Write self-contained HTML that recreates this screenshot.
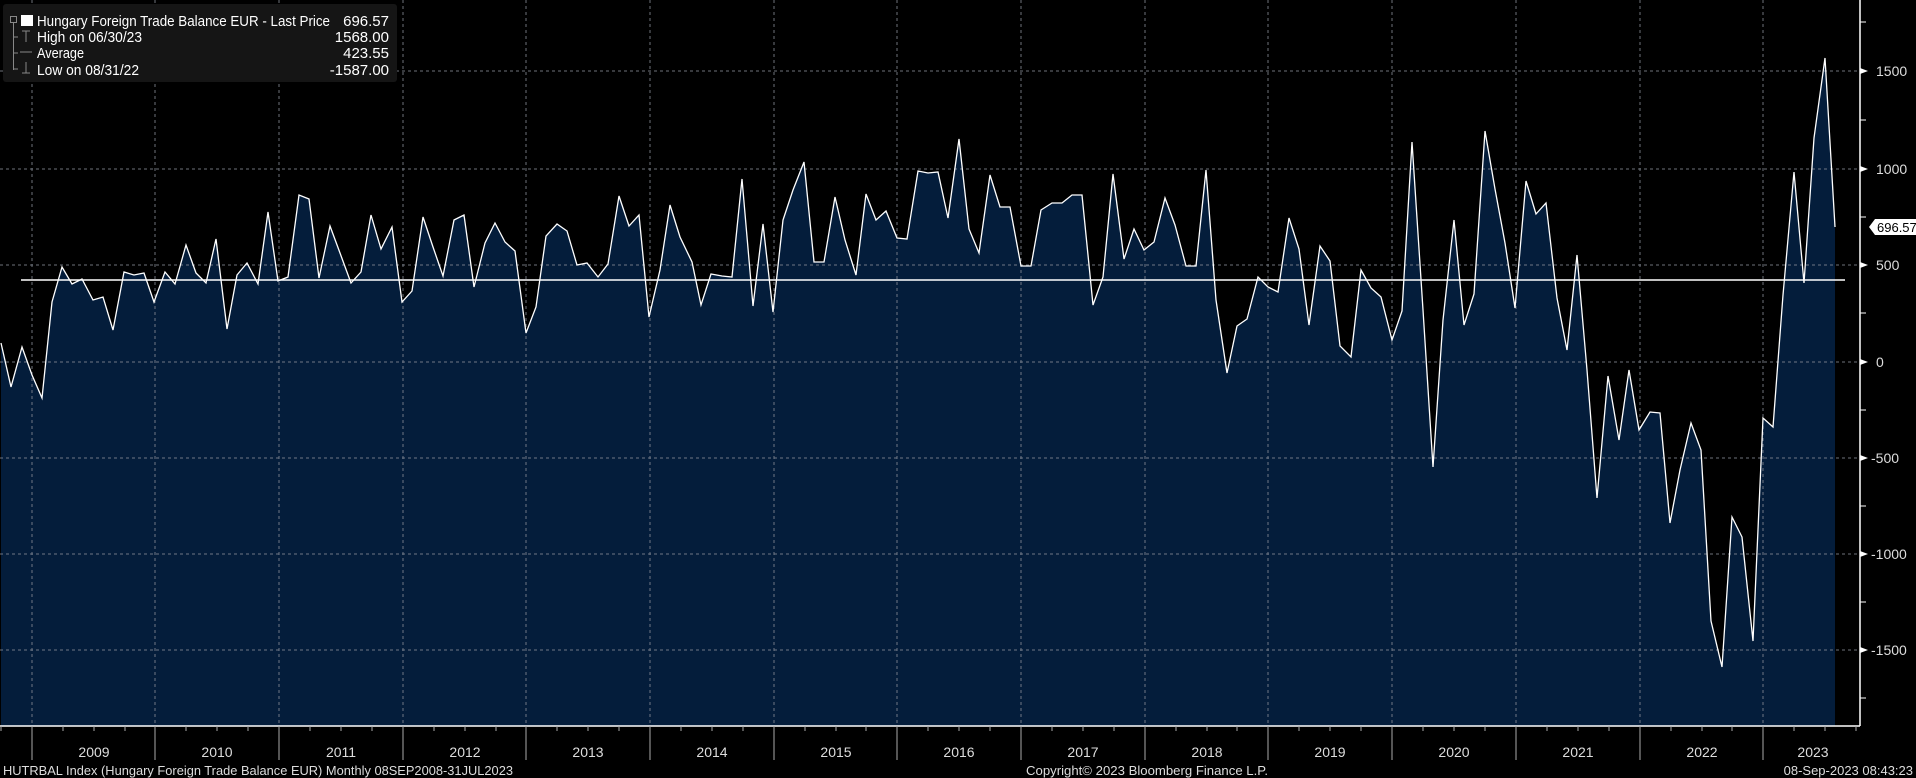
<!DOCTYPE html>
<html><head><meta charset="utf-8"><style>
html,body{margin:0;padding:0;background:#000;}
svg{display:block;font-family:"Liberation Sans",sans-serif;}
</style></head><body>
<svg width="1916" height="778" viewBox="0 0 1916 778" xmlns="http://www.w3.org/2000/svg">
<rect width="1916" height="778" fill="#000"/>
<polygon fill="#041d3b" points="1,726 1,343 11,387 22,347 32,375 42,398 52,302 62,267 72,284 82,279 93,300 103,297 113,330 124,272 134,275 144,273 154,302 165,272 175,284 186,245 196,273 206,283 216,239 227,329 237,275 247,263 258,284 268,212 278,281 288,277 299,195 309,199 319,278 330,226 340,253 351,283 361,272 371,215 381,249 392,227 402,302 412,291 423,217 433,247 443,276 454,220 464,215 474,287 485,243 495,223 505,242 515,251 526,333 536,307 546,236 557,224 567,231 577,265 587,263 598,277 608,264 619,196 629,226 639,215 649,317 660,270 670,205 680,237 692,262 701,305 711,274 722,276 732,277 742,179 753,306 763,224 773,312 783,220 793,190 804,162 814,262 824,262 835,197 845,240 856,275 866,194 876,220 886,211 897,238 907,239 918,171 928,173 938,172 948,218 959,139 969,229 979,253 990,175 1000,207 1010,207 1021,266 1031,266 1041,210 1052,203 1062,203 1072,195 1082,195 1093,305 1103,277 1113,174 1124,259 1134,229 1144,250 1154,242 1165,198 1175,225 1186,266 1196,266 1206,170 1216,300 1227,373 1237,326 1247,319 1258,277 1268,287 1278,292 1289,218 1299,249 1309,325 1320,246 1330,261 1340,346 1351,357 1361,270 1371,288 1381,297 1392,340 1402,311 1412,142 1423,310 1433,467 1443,320 1454,220 1464,325 1474,294 1485,131 1495,189 1505,243 1515,308 1526,181 1536,214 1546,203 1557,298 1567,350 1577,255 1587,370 1597,498 1608,376 1619,440 1629,370 1639,430 1650,412 1660,413 1670,523 1680,470 1691,423 1701,450 1711,621 1722,667 1732,517 1742,537 1753,641 1763,418 1773,427 1783,295 1794,172 1804,283 1814,138 1825,58 1835,227 1835,726"/>
<g stroke="#8a8f99" stroke-width="1" stroke-dasharray="3,3" opacity="0.8">
<line x1="0" y1="71" x2="1860" y2="71"/><line x1="0" y1="169" x2="1860" y2="169"/><line x1="0" y1="265" x2="1860" y2="265"/><line x1="0" y1="362" x2="1860" y2="362"/><line x1="0" y1="458" x2="1860" y2="458"/><line x1="0" y1="554" x2="1860" y2="554"/><line x1="0" y1="650" x2="1860" y2="650"/>
<line x1="32" y1="0" x2="32" y2="726"/><line x1="155" y1="0" x2="155" y2="726"/><line x1="279" y1="0" x2="279" y2="726"/><line x1="403" y1="0" x2="403" y2="726"/><line x1="526" y1="0" x2="526" y2="726"/><line x1="650" y1="0" x2="650" y2="726"/><line x1="774" y1="0" x2="774" y2="726"/><line x1="897" y1="0" x2="897" y2="726"/><line x1="1021" y1="0" x2="1021" y2="726"/><line x1="1145" y1="0" x2="1145" y2="726"/><line x1="1268" y1="0" x2="1268" y2="726"/><line x1="1392" y1="0" x2="1392" y2="726"/><line x1="1516" y1="0" x2="1516" y2="726"/><line x1="1640" y1="0" x2="1640" y2="726"/><line x1="1763" y1="0" x2="1763" y2="726"/>
</g>
<polyline fill="none" stroke="#fff" stroke-width="1.3" points="1,343 11,387 22,347 32,375 42,398 52,302 62,267 72,284 82,279 93,300 103,297 113,330 124,272 134,275 144,273 154,302 165,272 175,284 186,245 196,273 206,283 216,239 227,329 237,275 247,263 258,284 268,212 278,281 288,277 299,195 309,199 319,278 330,226 340,253 351,283 361,272 371,215 381,249 392,227 402,302 412,291 423,217 433,247 443,276 454,220 464,215 474,287 485,243 495,223 505,242 515,251 526,333 536,307 546,236 557,224 567,231 577,265 587,263 598,277 608,264 619,196 629,226 639,215 649,317 660,270 670,205 680,237 692,262 701,305 711,274 722,276 732,277 742,179 753,306 763,224 773,312 783,220 793,190 804,162 814,262 824,262 835,197 845,240 856,275 866,194 876,220 886,211 897,238 907,239 918,171 928,173 938,172 948,218 959,139 969,229 979,253 990,175 1000,207 1010,207 1021,266 1031,266 1041,210 1052,203 1062,203 1072,195 1082,195 1093,305 1103,277 1113,174 1124,259 1134,229 1144,250 1154,242 1165,198 1175,225 1186,266 1196,266 1206,170 1216,300 1227,373 1237,326 1247,319 1258,277 1268,287 1278,292 1289,218 1299,249 1309,325 1320,246 1330,261 1340,346 1351,357 1361,270 1371,288 1381,297 1392,340 1402,311 1412,142 1423,310 1433,467 1443,320 1454,220 1464,325 1474,294 1485,131 1495,189 1505,243 1515,308 1526,181 1536,214 1546,203 1557,298 1567,350 1577,255 1587,370 1597,498 1608,376 1619,440 1629,370 1639,430 1650,412 1660,413 1670,523 1680,470 1691,423 1701,450 1711,621 1722,667 1732,517 1742,537 1753,641 1763,418 1773,427 1783,295 1794,172 1804,283 1814,138 1825,58 1835,227"/>
<line x1="21" y1="280" x2="1845" y2="280" stroke="#fff" stroke-width="1.5"/>
<line x1="0" y1="726" x2="1860" y2="726" stroke="#fff" stroke-width="1.5"/>
<line x1="1860" y1="0" x2="1860" y2="726" stroke="#fff" stroke-width="1.5"/>
<g stroke="#aaa" stroke-width="1">
<line x1="32" y1="726" x2="32" y2="760"/><line x1="155" y1="726" x2="155" y2="760"/><line x1="279" y1="726" x2="279" y2="760"/><line x1="403" y1="726" x2="403" y2="760"/><line x1="526" y1="726" x2="526" y2="760"/><line x1="650" y1="726" x2="650" y2="760"/><line x1="774" y1="726" x2="774" y2="760"/><line x1="897" y1="726" x2="897" y2="760"/><line x1="1021" y1="726" x2="1021" y2="760"/><line x1="1145" y1="726" x2="1145" y2="760"/><line x1="1268" y1="726" x2="1268" y2="760"/><line x1="1392" y1="726" x2="1392" y2="760"/><line x1="1516" y1="726" x2="1516" y2="760"/><line x1="1640" y1="726" x2="1640" y2="760"/><line x1="1763" y1="726" x2="1763" y2="760"/>
</g>
<g stroke="#aaa" stroke-width="1">
<line x1="1" y1="726" x2="1" y2="731"/><line x1="63" y1="726" x2="63" y2="731"/><line x1="94" y1="726" x2="94" y2="731"/><line x1="125" y1="726" x2="125" y2="731"/><line x1="186" y1="726" x2="186" y2="731"/><line x1="217" y1="726" x2="217" y2="731"/><line x1="248" y1="726" x2="248" y2="731"/><line x1="310" y1="726" x2="310" y2="731"/><line x1="341" y1="726" x2="341" y2="731"/><line x1="372" y1="726" x2="372" y2="731"/><line x1="434" y1="726" x2="434" y2="731"/><line x1="465" y1="726" x2="465" y2="731"/><line x1="496" y1="726" x2="496" y2="731"/><line x1="557" y1="726" x2="557" y2="731"/><line x1="588" y1="726" x2="588" y2="731"/><line x1="619" y1="726" x2="619" y2="731"/><line x1="681" y1="726" x2="681" y2="731"/><line x1="712" y1="726" x2="712" y2="731"/><line x1="743" y1="726" x2="743" y2="731"/><line x1="805" y1="726" x2="805" y2="731"/><line x1="836" y1="726" x2="836" y2="731"/><line x1="866" y1="726" x2="866" y2="731"/><line x1="928" y1="726" x2="928" y2="731"/><line x1="959" y1="726" x2="959" y2="731"/><line x1="990" y1="726" x2="990" y2="731"/><line x1="1052" y1="726" x2="1052" y2="731"/><line x1="1083" y1="726" x2="1083" y2="731"/><line x1="1114" y1="726" x2="1114" y2="731"/><line x1="1176" y1="726" x2="1176" y2="731"/><line x1="1207" y1="726" x2="1207" y2="731"/><line x1="1237" y1="726" x2="1237" y2="731"/><line x1="1299" y1="726" x2="1299" y2="731"/><line x1="1330" y1="726" x2="1330" y2="731"/><line x1="1361" y1="726" x2="1361" y2="731"/><line x1="1423" y1="726" x2="1423" y2="731"/><line x1="1454" y1="726" x2="1454" y2="731"/><line x1="1485" y1="726" x2="1485" y2="731"/><line x1="1547" y1="726" x2="1547" y2="731"/><line x1="1578" y1="726" x2="1578" y2="731"/><line x1="1609" y1="726" x2="1609" y2="731"/><line x1="1671" y1="726" x2="1671" y2="731"/><line x1="1702" y1="726" x2="1702" y2="731"/><line x1="1732" y1="726" x2="1732" y2="731"/><line x1="1794" y1="726" x2="1794" y2="731"/><line x1="1825" y1="726" x2="1825" y2="731"/><line x1="1856" y1="726" x2="1856" y2="731"/>
</g>
<g fill="#ddd" font-size="14" text-anchor="middle">
<text x="94" y="757">2009</text><text x="217" y="757">2010</text><text x="341" y="757">2011</text><text x="465" y="757">2012</text><text x="588" y="757">2013</text><text x="712" y="757">2014</text><text x="836" y="757">2015</text><text x="959" y="757">2016</text><text x="1083" y="757">2017</text><text x="1207" y="757">2018</text><text x="1330" y="757">2019</text><text x="1454" y="757">2020</text><text x="1578" y="757">2021</text><text x="1702" y="757">2022</text><text x="1813" y="757">2023</text>
</g>
<g fill="#fff">
<polygon points="1860,68 1868,71 1860,74"/><polygon points="1860,166 1868,169 1860,172"/><polygon points="1860,262 1868,265 1860,268"/><polygon points="1860,359 1868,362 1860,365"/><polygon points="1860,455 1868,458 1860,461"/><polygon points="1860,551 1868,554 1860,557"/><polygon points="1860,647 1868,650 1860,653"/>
</g>
<g stroke="#fff" stroke-width="1">
<line x1="1860" y1="22" x2="1866" y2="22"/><line x1="1860" y1="120" x2="1866" y2="120"/><line x1="1860" y1="217" x2="1866" y2="217"/><line x1="1860" y1="313" x2="1866" y2="313"/><line x1="1860" y1="410" x2="1866" y2="410"/><line x1="1860" y1="506" x2="1866" y2="506"/><line x1="1860" y1="602" x2="1866" y2="602"/><line x1="1860" y1="698" x2="1866" y2="698"/>
</g>
<g fill="#ddd" font-size="14">
<text x="1876" y="76">1500</text><text x="1876" y="174">1000</text><text x="1876" y="270">500</text><text x="1876" y="367">0</text><text x="1871" y="463">-500</text><text x="1871" y="559">-1000</text><text x="1871" y="655">-1500</text>
</g>
<polygon points="1869,227 1875,219 1916,219 1916,235 1875,235" fill="#fff"/>
<text x="1877" y="232" font-size="13" fill="#000">696.57</text>
<rect x="3" y="4" width="394" height="78" rx="3" fill="#151515"/>
<g stroke="#888" stroke-width="1" fill="none">
<rect x="10.5" y="16.5" width="6" height="6"/>
<line x1="13.5" y1="23" x2="13.5" y2="70"/><line x1="13.5" y1="37" x2="18" y2="37"/><line x1="13.5" y1="53" x2="18" y2="53"/><line x1="13.5" y1="69" x2="18" y2="69"/>
<line x1="22" y1="31" x2="30" y2="31"/><line x1="26" y1="31" x2="26" y2="42"/>
<line x1="20" y1="52" x2="32" y2="52"/>
<line x1="26" y1="62" x2="26" y2="73"/><line x1="22" y1="73" x2="30" y2="73"/>
</g>
<rect x="21" y="15" width="12" height="11" fill="#fff"/>
<g fill="#fff" font-size="15">
<text x="37" y="26" textLength="293" lengthAdjust="spacingAndGlyphs">Hungary Foreign Trade Balance EUR - Last Price</text>
<text x="37" y="42" textLength="105" lengthAdjust="spacingAndGlyphs">High on 06/30/23</text>
<text x="37" y="58" textLength="47" lengthAdjust="spacingAndGlyphs">Average</text>
<text x="37" y="75" textLength="102" lengthAdjust="spacingAndGlyphs">Low on 08/31/22</text>
</g>
<g fill="#fff" font-size="15" text-anchor="end">
<text x="389" y="26">696.57</text><text x="389" y="42">1568.00</text><text x="389" y="58">423.55</text><text x="389" y="75">-1587.00</text>
</g>
<g fill="#ddd" font-size="13">
<text x="3" y="775" textLength="510" lengthAdjust="spacingAndGlyphs">HUTRBAL Index (Hungary Foreign Trade Balance EUR)  Monthly 08SEP2008-31JUL2023</text>
<text x="1026" y="775" textLength="242" lengthAdjust="spacingAndGlyphs">Copyright© 2023 Bloomberg Finance L.P.</text>
<text x="1913" y="775" text-anchor="end">08-Sep-2023 08:43:23</text>
</g>
</svg>
</body></html>
